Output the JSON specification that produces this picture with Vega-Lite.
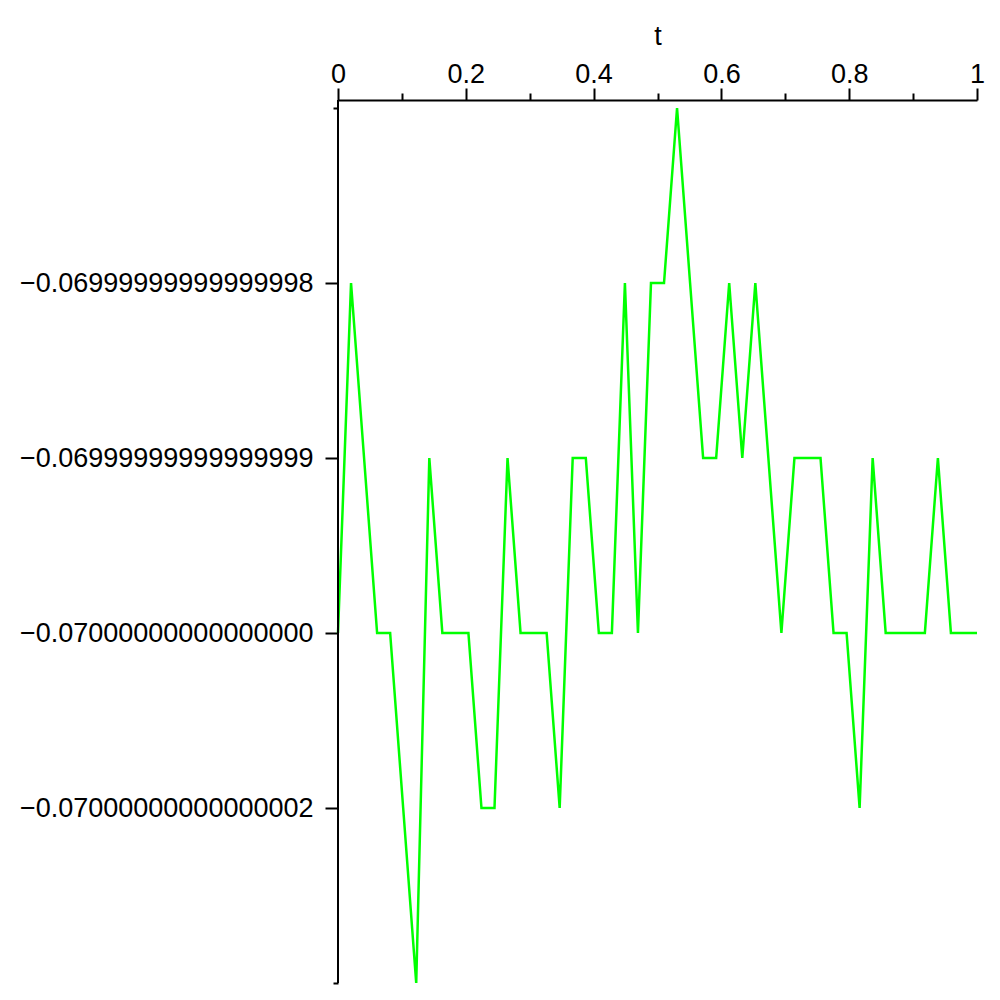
{
  "$schema": "https://vega.github.io/schema/vega-lite/v6.json",
  "autosize": {"type": "none"},
  "padding": {"left": 338, "top": 100, "right": 23, "bottom": 17},
  "width": 639,
  "height": 883,
  "background": "white",
  "config": {
    "view": {"stroke": null},
    "axis": {
      "domainColor": "black", "tickColor": "black", "labelColor": "black", "titleColor": "black",
      "domainWidth": 2, "tickWidth": 2, "grid": false,
      "labelFont": "Liberation Sans", "titleFont": "Liberation Sans",
      "labelFontSize": 27, "titleFontSize": 27, "titleFontWeight": "normal",
      "labelOverlap": false, "labelFlush": false, "labelLimit": 0
    }
  },
  "data": {
    "values": [
      {"t": 0, "v": -0.07},
      {"t": 0.0204, "v": -0.06999999999999998},
      {"t": 0.0408, "v": -0.06999999999999999},
      {"t": 0.0612, "v": -0.07},
      {"t": 0.0816, "v": -0.07},
      {"t": 0.102, "v": -0.07000000000000002},
      {"t": 0.1224, "v": -0.07000000000000003},
      {"t": 0.1429, "v": -0.06999999999999999},
      {"t": 0.1633, "v": -0.07},
      {"t": 0.1837, "v": -0.07},
      {"t": 0.2041, "v": -0.07},
      {"t": 0.2245, "v": -0.07000000000000002},
      {"t": 0.2449, "v": -0.07000000000000002},
      {"t": 0.2653, "v": -0.06999999999999999},
      {"t": 0.2857, "v": -0.07},
      {"t": 0.3061, "v": -0.07},
      {"t": 0.3265, "v": -0.07},
      {"t": 0.3469, "v": -0.07000000000000002},
      {"t": 0.3673, "v": -0.06999999999999999},
      {"t": 0.3878, "v": -0.06999999999999999},
      {"t": 0.4082, "v": -0.07},
      {"t": 0.4286, "v": -0.07},
      {"t": 0.449, "v": -0.06999999999999998},
      {"t": 0.4694, "v": -0.07},
      {"t": 0.4898, "v": -0.06999999999999998},
      {"t": 0.5102, "v": -0.06999999999999998},
      {"t": 0.5306, "v": -0.06999999999999997},
      {"t": 0.551, "v": -0.06999999999999998},
      {"t": 0.5714, "v": -0.06999999999999999},
      {"t": 0.5918, "v": -0.06999999999999999},
      {"t": 0.6122, "v": -0.06999999999999998},
      {"t": 0.6327, "v": -0.06999999999999999},
      {"t": 0.6531, "v": -0.06999999999999998},
      {"t": 0.6735, "v": -0.06999999999999999},
      {"t": 0.6939, "v": -0.07},
      {"t": 0.7143, "v": -0.06999999999999999},
      {"t": 0.7347, "v": -0.06999999999999999},
      {"t": 0.7551, "v": -0.06999999999999999},
      {"t": 0.7755, "v": -0.07},
      {"t": 0.7959, "v": -0.07},
      {"t": 0.8163, "v": -0.07000000000000002},
      {"t": 0.8367, "v": -0.06999999999999999},
      {"t": 0.8571, "v": -0.07},
      {"t": 0.8776, "v": -0.07},
      {"t": 0.898, "v": -0.07},
      {"t": 0.9184, "v": -0.07},
      {"t": 0.9388, "v": -0.06999999999999999},
      {"t": 0.9592, "v": -0.07},
      {"t": 0.9796, "v": -0.07},
      {"t": 1, "v": -0.07}
    ]
  },
  "layer": [
    {
      "mark": {"type": "line", "color": "#00ff00", "strokeWidth": 2.5},
      "encoding": {
        "x": {
          "field": "t", "type": "quantitative",
          "scale": {"domain": [0, 1], "nice": false, "zero": false},
          "axis": {
            "orient": "top", "values": [0, 0.2, 0.4, 0.6, 0.8, 1],
            "tickSize": 12, "labelPadding": 0, "format": ".1~f",
            "title": "t", "titlePadding": 10
          }
        },
        "y": {
          "field": "v", "type": "quantitative",
          "scale": {"domain": [-0.07000000000000003, -0.06999999999999997], "range": [883, 8], "nice": false, "zero": false},
          "axis": {
            "orient": "left",
            "values": [-0.06999999999999998, -0.06999999999999999, -0.07, -0.07000000000000002],
            "tickSize": 13, "labelPadding": 12, "domain": false, "title": null,
            "labelExpr": "datum.value === -0.06999999999999998 ? '−0.06999999999999998' : datum.value === -0.06999999999999999 ? '−0.06999999999999999' : datum.value === -0.07 ? '−0.07000000000000000' : '−0.07000000000000002'"
          }
        }
      }
    },
    {
      "data": {"values": [{}]},
      "mark": {"type": "rule", "color": "black", "strokeWidth": 2},
      "encoding": {
        "x": {
          "datum": 0, "type": "quantitative",
          "axis": {
            "orient": "top", "values": [0.1, 0.3, 0.5, 0.7, 0.9],
            "tickSize": 7, "labels": false, "domain": false, "title": null
          }
        }
      }
    },
    {
      "mark": {"type": "line", "strokeOpacity": 0},
      "encoding": {
        "x": {"field": "t", "type": "quantitative", "axis": null},
        "y": {
          "field": "v", "type": "quantitative",
          "axis": {
            "orient": "left",
            "values": [-0.06999999999999997, -0.07000000000000003],
            "tickSize": 5, "labels": false, "domain": false, "title": null
          }
        }
      }
    }
  ],
  "resolve": {"axis": {"x": "independent", "y": "independent"}}
}
